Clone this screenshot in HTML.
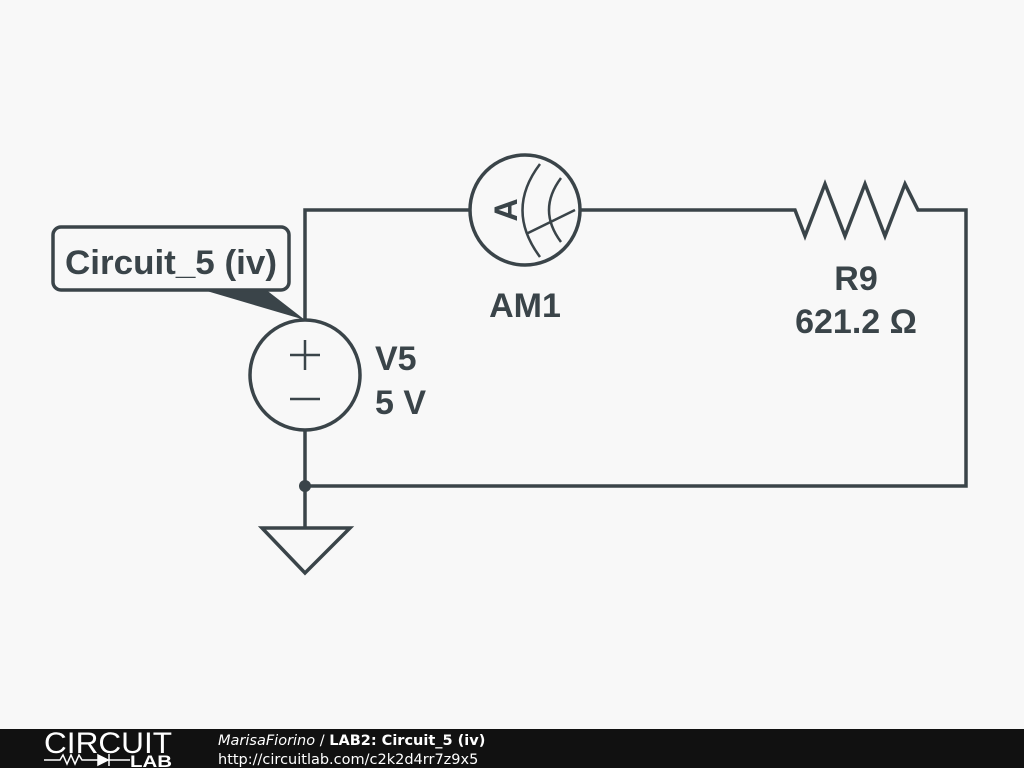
<!DOCTYPE html>
<html><head><style>body{margin:0;background:#f8f8f8;}svg{display:block}</style></head><body>
<svg width="1024" height="768" viewBox="0 0 1024 768" xmlns="http://www.w3.org/2000/svg">
<rect width="1024" height="768" fill="#f8f8f8"/>
<g stroke="#3a4449" stroke-width="3.5" fill="none" stroke-linejoin="miter">
<path d="M305 320 V210 H470 M580 210 H795 L805 236 L825 184 L845 236 L865 184 L885 236 L905 184 L918 210 H966 V486 H305 M305 430 V528"/>
<circle cx="525" cy="210" r="55"/>
<circle cx="305" cy="375" r="55"/>
<path d="M262 528 H350 L305 573 Z"/>
<path d="M540 164 Q505 210 540 257" stroke-width="2.5"/>
<path d="M561 178 Q537 210 561 242" stroke-width="2.5"/>
<path d="M526 234 L575 210" stroke-width="2.5"/>
<path d="M290 355 H320 M305 340 V370 M290 399 H320" stroke-width="2.5"/>
</g>
<circle cx="305" cy="486" r="6" fill="#3a4449"/>
<path d="M200 289 L265 289 L305 320 Z" fill="#3a4449"/>
<rect x="53" y="227" width="236" height="63" rx="8" fill="#f8f8f8" stroke="#3a4449" stroke-width="3.5"/>
<g font-family="Liberation Sans, sans-serif" font-weight="bold" fill="#3a4449" font-size="34">
<text x="171" y="274" text-anchor="middle" textLength="212" lengthAdjust="spacingAndGlyphs">Circuit_5 (iv)</text>
<text x="525" y="317" text-anchor="middle">AM1</text>
<text x="856" y="290" text-anchor="middle">R9</text>
<text x="856" y="333" text-anchor="middle">621.2 Ω</text>
<text x="375" y="370">V5</text>
<text x="375" y="414">5 V</text>
<text transform="translate(517 210) rotate(-90)" text-anchor="middle" font-size="32">A</text>
</g>
<rect y="729" width="1024" height="39" fill="#111"/>
<g font-family="Liberation Sans, sans-serif" fill="#fff">
<text x="44" y="753" font-size="30" textLength="128" lengthAdjust="spacingAndGlyphs">CIRCUIT</text>
<text x="130" y="767" font-size="17" font-weight="bold" textLength="42" lengthAdjust="spacingAndGlyphs">LAB</text>
<path d="M44 760 H60 L63 755 L67 764 L71 755 L75 764 L79 755 L82 760 H130" stroke="#fff" stroke-width="1.5" fill="none"/>
<path d="M98 755 L108 760 L98 765 Z M109 754 V766" fill="#fff" stroke="#fff" stroke-width="1.5"/>
</g>
<g font-family="DejaVu Sans, sans-serif" fill="#fff" font-size="14.5">
<text x="218" y="745"><tspan font-style="italic">MarisaFiorino</tspan> / <tspan font-weight="bold">LAB2: Circuit_5 (iv)</tspan></text>
<text x="218" y="764">http://circuitlab.com/c2k2d4rr7z9x5</text>
</g>
</svg>
</body></html>
